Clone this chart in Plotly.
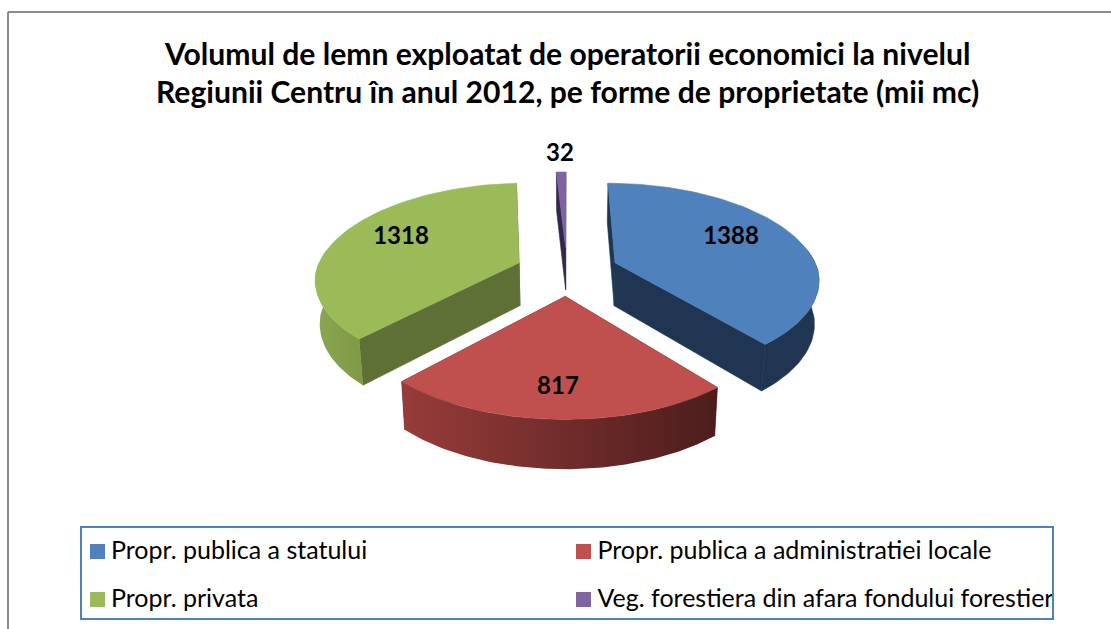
import numpy as np
import plotly.graph_objects as go

categories = ["Propr. publica a statului", "Propr. publica a administratiei locale",
              "Propr. privata", "Veg. forestiera din afara fondului forestier"]
values = [1388, 817, 1318, 32]
top_colors = ["#4f81bd", "#c0504d", "#9bbb59", "#8064a2"]
wall_colors = ["#1f3552", "#5a2322", "#5f7036", "#33284a"]
title_lines = ["Volumul de lemn exploatat de operatorii economici la nivelul",
               "Regiunii Centru în anul 2012, pe forme de proprietate (mii mc)"]

# projection of the exploded, tilted pie
CX, CY = 567, 271
A, B, K_BACK, K_FRONT, E = 203, 96, 0.173, 0.15, 0.255
H0, H1, XSHRINK = 43.3, 28, 0.018

def project(X, Y, Z=0.0):
    X = np.asarray(X, float)
    Y = np.asarray(Y, float)
    s = 1 / (1 + np.where(Y > 0, K_BACK, K_FRONT) * Y)
    depth = (H0 + H1 * (s - 1)) * Z
    return CX + A * X * s * (1 - XSHRINK * Z), CY - B * Y * s + depth

def rim(t0, t1, n=90):
    t = np.linspace(t0, t1, n)
    return np.sin(t), np.cos(t)

def poly(fig, xs, ys, color=None, gradient=None):
    if gradient:
        kw = dict(fillgradient=gradient, line=dict(width=0))
    else:
        kw = dict(fillcolor=color, line=dict(width=0.6, color=color))
    fig.add_trace(go.Scatter(x=list(xs) + [xs[0]], y=list(ys) + [ys[0]], mode="lines", fill="toself",
                             hoverinfo="skip", showlegend=False, **kw))

fig = go.Figure()
angles = np.cumsum([0] + values) / sum(values) * 2 * np.pi
for i in [3, 2, 0, 1]:
    t0, t1 = angles[i], angles[i + 1]
    mid = (t0 + t1) / 2
    ox, oy = E * np.sin(mid), E * np.cos(mid)
    rx, ry = rim(t0, t1)
    rx, ry = rx + ox, ry + oy
    ax0, ay0 = project(ox, oy, 0)
    ax1, ay1 = project(ox, oy, 1)
    px0, py0 = project(rx, ry, 0)
    px1, py1 = project(rx, ry, 1)
    # radial walls
    for k in (0, -1):
        xa, ya = project(rx[k], ry[k], 0)
        xb, yb = project(rx[k], ry[k], 1)
        poly(fig, [ax0, xa, xb, ax1], [ay0, ya, yb, ay1], wall_colors[i])
    # outer wall
    front = ry - oy < 0.15
    if front.any():
        wx = np.r_[px0[front], px1[front][::-1]]
        wy = np.r_[py0[front], py1[front][::-1]]
        grad = None
        if i == 1:
            grad = dict(type="horizontal", colorscale=[[0, "#973c3a"], [1, "#4c1d1c"]])
        if i == 2:
            grad = dict(type="horizontal", colorscale=[[0, "#8ba552"], [1, "#7f9a45"]])
        poly(fig, wx, wy, wall_colors[i], grad)
    # top face
    poly(fig, np.r_[ax0, px0], np.r_[ay0, py0], top_colors[i])

# value labels
label_x = [731, 558, 401, 560]
label_y = [238, 388, 238, 155]
fig.add_trace(go.Scatter(x=label_x, y=label_y, mode="text", text=[str(v) for v in values],
                         textfont=dict(family="Lato", size=24, color="#000000", weight=700),
                         textposition="middle center", hoverinfo="skip", showlegend=False))

# legend
leg_x = [97.5, 583.5, 97.5, 583.5]
leg_y = [551.5, 551.5, 599.5, 599.5]
text_x = [111, 597.5, 111, 597.5]
text_y = [553, 553, 601, 601]
fig.add_trace(go.Scatter(x=leg_x, y=leg_y, mode="markers",
                         marker=dict(symbol="square", size=15, color=top_colors, line=dict(width=0)),
                         hoverinfo="skip", showlegend=False))
fig.add_trace(go.Scatter(x=text_x, y=text_y, mode="text", text=categories, textposition="middle right",
                         textfont=dict(family="Lato", size=25, color="#000000"),
                         hoverinfo="skip", showlegend=False, cliponaxis=False))

annots = [dict(x=567, y=y, xref="x", yref="y", text=t, showarrow=False,
               font=dict(family="Lato", size=30.1, color="#000000", weight=700))
          for t, y in zip(title_lines, [53, 91])]

shapes = [
    dict(type="line", x0=8, x1=8, y0=12, y1=629, line=dict(color="#8c8c8c", width=2)),
    dict(type="line", x0=8, x1=1111, y0=12, y1=12, line=dict(color="#8c8c8c", width=2)),
    dict(type="rect", x0=81, x1=1053, y0=527, y1=619, line=dict(color="#4f81bd", width=2)),
]
fig.update_layout(width=1111, height=629, margin=dict(l=0, r=0, t=0, b=0),
                  paper_bgcolor="#ffffff", plot_bgcolor="#ffffff", showlegend=False,
                  xaxis=dict(range=[0, 1111], visible=False, fixedrange=True),
                  yaxis=dict(range=[629, 0], visible=False, fixedrange=True),
                  annotations=annots, shapes=shapes)
fig.write_html("out.html", config=dict(displayModeBar=False),
               post_script="document.body.style.margin='0';document.body.style.overflow='hidden';")
